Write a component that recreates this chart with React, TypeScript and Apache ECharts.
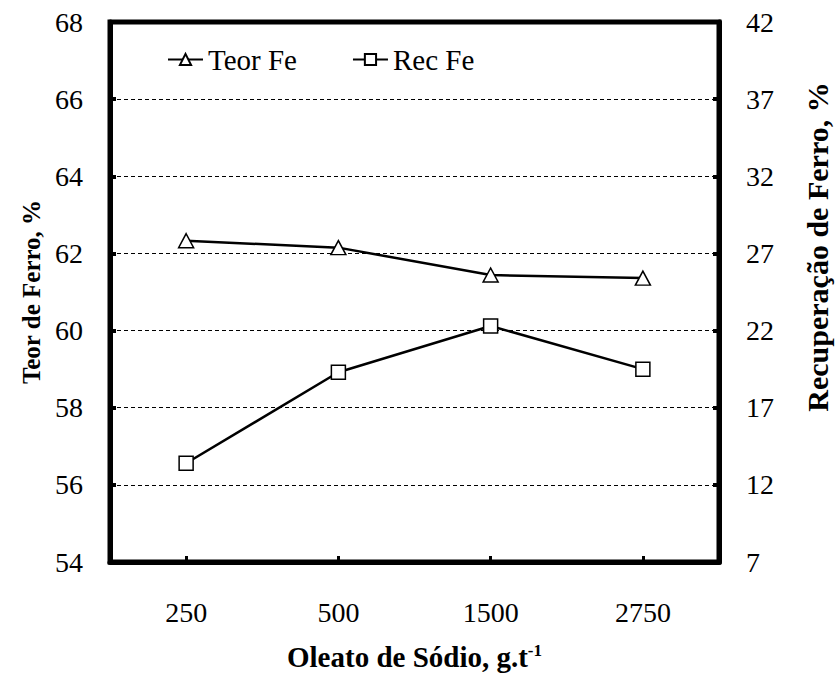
import React, { useEffect, useRef } from "react";
import * as echarts from "echarts";

// Dosagem de oleato de sódio (g/t)
const categories = ["250", "500", "1500", "2750"];
// Teor de ferro no concentrado (%), eixo esquerdo
const teorFe = [62.33, 62.15, 61.44, 61.36];
// Recuperação de ferro (%), eixo direito
const recFe = [13.4, 19.3, 22.3, 19.5];

const FONT = "Liberation Serif";

export default function App() {
  const ref = useRef<HTMLDivElement>(null);

  useEffect(() => {
    if (!ref.current) return;
    const chart = echarts.init(ref.current, null, { renderer: "svg" });

    const markerStyle = {
      color: "#fff",
      borderColor: "#000",
      borderWidth: 1.5,
    };

    chart.setOption({
      animation: false,
      backgroundColor: "#fff",
      textStyle: { fontFamily: FONT, color: "#000" },
      grid: {
        left: 110,
        right: 110,
        top: 22,
        bottom: 115,
        show: true,
        borderColor: "#000",
        borderWidth: 5,
        backgroundColor: "transparent",
      },
      legend: {
        left: 167,
        top: 45,
        padding: 0,
        itemWidth: 35,
        itemHeight: 14,
        itemGap: 55,
        textStyle: { fontFamily: FONT, fontSize: 29, color: "#000" },
        data: ["Teor Fe", "Rec Fe"],
      },
      xAxis: {
        type: "category",
        data: categories,
        boundaryGap: true,
        axisLine: { show: true, lineStyle: { color: "#000", width: 5 } },
        axisTick: {
          show: true,
          inside: true,
          alignWithLabel: true,
          length: 6,
          lineStyle: { color: "#000", width: 3 },
        },
        axisLabel: {
          fontFamily: FONT,
          fontSize: 28,
          color: "#000",
          margin: 36,
        },
        name: "{a|Oleato de Sódio, g.t}{s|-1}",
        nameLocation: "middle",
        nameGap: 80,
        nameTextStyle: {
          rich: {
            a: { fontFamily: FONT, fontSize: 29, fontWeight: "bold", color: "#000" },
            s: {
              fontFamily: FONT,
              fontSize: 17,
              fontWeight: "bold",
              color: "#000",
              verticalAlign: "top",
            },
          },
        },
      },
      yAxis: [
        {
          type: "value",
          min: 54,
          max: 68,
          interval: 2,
          position: "left",
          axisLine: { show: true, lineStyle: { color: "#000", width: 5 } },
          axisTick: {
            show: true,
            inside: true,
            length: 6,
            lineStyle: { color: "#000", width: 4 },
          },
          axisLabel: {
            fontFamily: FONT,
            fontSize: 28,
            color: "#000",
            margin: 27,
          },
          splitLine: {
            show: true,
            lineStyle: { color: "#000", width: 1.2, type: [4, 3] },
          },
          name: "Teor de Ferro, %",
          nameLocation: "middle",
          nameRotate: 90,
          nameGap: 66,
          nameTextStyle: {
            fontFamily: FONT,
            fontSize: 25,
            fontWeight: "bold",
            color: "#000",
          },
        },
        {
          type: "value",
          min: 7,
          max: 42,
          interval: 5,
          position: "right",
          axisLine: { show: true, lineStyle: { color: "#000", width: 5 } },
          axisTick: {
            show: true,
            inside: true,
            length: 6,
            lineStyle: { color: "#000", width: 4 },
          },
          axisLabel: {
            fontFamily: FONT,
            fontSize: 28,
            color: "#000",
            margin: 27,
          },
          splitLine: { show: false },
          name: "Recuperação de Ferro, %",
          nameLocation: "middle",
          nameRotate: 90,
          nameGap: 83,
          nameTextStyle: {
            fontFamily: FONT,
            fontSize: 30,
            fontWeight: "bold",
            color: "#000",
            padding: [0, 0, 0, 90],
          },
        },
      ],
      series: [
        {
          name: "Teor Fe",
          type: "line",
          yAxisIndex: 0,
          data: teorFe,
          symbol: "triangle",
          symbolSize: [15, 14],
          lineStyle: { color: "#000", width: 2.5 },
          itemStyle: markerStyle,
        },
        {
          name: "Rec Fe",
          type: "line",
          yAxisIndex: 1,
          data: recFe,
          symbol: "rect",
          symbolSize: 14,
          lineStyle: { color: "#000", width: 2.5 },
          itemStyle: markerStyle,
        },
      ],
    });

    return () => chart.dispose();
  }, []);

  return (
    <div
      ref={ref}
      style={{ position: "fixed", left: 0, top: 0, width: 840, height: 677 }}
    />
  );
}
